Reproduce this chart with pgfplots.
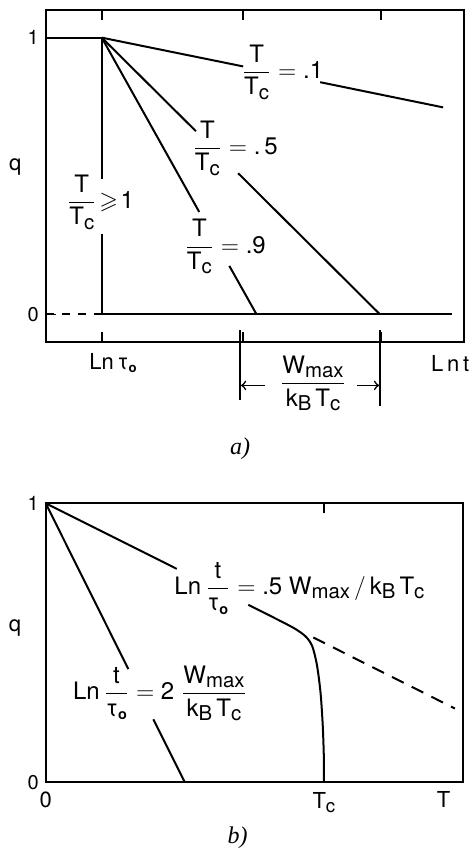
\documentclass[border=0pt]{standalone}
\usepackage{amsmath,amssymb}
\usepackage{fontspec}
\setmainfont{TeX Gyre Heros}
\newfontfamily\serif{Liberation Serif}
\usepackage{pgfplots}
\pgfplotsset{compat=1.18}

% lowered, slightly reduced subscripts as in the drawing
\newcommand{\sub}[1]{\raisebox{-0.35ex}{\scalebox{0.85}{#1}}}
\newcommand{\Tc}{\text{T\sub{c}}}
\newcommand{\TT}{\dfrac{\text{T}}{\Tc}}
\newcommand{\tauo}{\text{τ\raisebox{-0.3ex}{\scalebox{0.6}{\bfseries o}}}}
\newcommand{\Lt}{\text{Ln}\,\dfrac{\text{t}}{\tauo}}
\newcommand{\Wm}{\text{W\sub{max}}}
\newcommand{\kT}{\text{k\sub{B}\,T\sub{c}}}

\pgfplotsset{
  sketch/.style={
    scale only axis,
    axis line style={line width=1pt},
    every tick/.style={black, line width=0.8pt},
    tick align=inside,
    major tick length=5pt,
    clip=false,
    /pgf/number format/assume math mode=true,
    tick label style={font=\fontsize{10}{12}\selectfont},
    cycle list={{black,solid}},
    every axis plot post/.append style={black, line width=1pt, mark=none},
  }
}

\begin{document}
\begin{tikzpicture}
\path[use as bounding box] (0,0) rectangle (236.5pt,424.5pt);

% panel a
\begin{axis}[sketch,
  at={(22.85pt,253.5pt)}, anchor=south west,
  width=209.15pt, height=166pt,
  xmin=0, xmax=10, ymin=-0.1, ymax=1.1,
  xtick={1.34,4.72,8.02}, xticklabels={},
  xtick pos=both,
  ytick={0,1}, yticklabels={0,1}, ytick pos=left,
]
\addplot coordinates {(0,1) (1.34,1)};
\addplot coordinates {(1.34,1) (1.34,0.49)};
\addplot coordinates {(1.34,0.29) (1.34,0)};
\addplot coordinates {(1.34,0) (9.72,0)};
\addplot[dash pattern=on 4pt off 4pt] coordinates {(0,0) (1.34,0)};
% T/Tc = .1
\addplot coordinates {(1.34,1) (4.72,0.896)};
\addplot coordinates {(6.56,0.839) (9.50,0.748)};
% T/Tc = .5
\addplot coordinates {(1.34,1) (3.59,0.662)};
\addplot coordinates {(4.60,0.510) (7.99,0)};
% T/Tc = .9
\addplot coordinates {(1.34,1) (3.67,0.370)};
\addplot coordinates {(4.39,0.175) (5.04,0)};

% bracket for Wmax/kBTc
\addplot coordinates {(4.65,-0.058) (4.65,-0.311)};
\addplot coordinates {(7.99,-0.058) (7.99,-0.333)};
\draw[->, line width=0.8pt] (axis cs:5.24,-0.257) -- (axis cs:4.67,-0.257);
\draw[->, line width=0.8pt] (axis cs:7.44,-0.257) -- (axis cs:7.97,-0.257);

\node[font=\fontsize{12}{14}\selectfont] at (axis cs:5.66,0.876) {$\TT=\text{.1}$};
\node[font=\fontsize{12}{14}\selectfont] at (axis cs:4.53,0.601) {$\TT=\text{.\,5}$};
\node[font=\fontsize{12}{14}\selectfont] at (axis cs:1.31,0.406) {$\TT\!\geqslant\!\text{1}$};
\node[font=\fontsize{12}{14}\selectfont] at (axis cs:4.29,0.244) {$\TT=\text{.9}$};
\node[font=\fontsize{11}{13}\selectfont] at (axis cs:-0.73,0.532) {q};
\node[font=\fontsize{11}{13}\selectfont] at (axis cs:1.61,-0.177) {Ln\,$\tauo$};
\node[font=\fontsize{11}{13}\selectfont] at (axis cs:9.67,-0.177) {L\,n\,t};
\node[font=\fontsize{12}{14}\selectfont] at (axis cs:6.39,-0.25) {$\dfrac{\Wm}{\kT}$};
\node[font=\serif\itshape\fontsize{12}{14}\selectfont] at (axis cs:4.645,-0.485) {a)};
\end{axis}

% panel b
\begin{axis}[sketch,
  at={(22.85pt,33.35pt)}, anchor=south west,
  width=208.65pt, height=139.5pt,
  xmin=0, xmax=1.5, ymin=0, ymax=1,
  xtick={1}, xticklabels={}, xtick pos=both,
  ytick={0,1}, yticklabels={0,1}, ytick pos=left,
]
% Ln t/tau0 = 2 Wmax/kBTc
\addplot coordinates {(0,1) (0.297,0.406)};
\addplot coordinates {(0.387,0.226) (0.5,0)};
% Ln t/tau0 = .5 Wmax/kBTc
\addplot coordinates {(0,1) (0.471,0.765)};
\addplot[smooth, tension=0.5] coordinates {
  (0.728,0.636) (0.85,0.575) (0.90,0.548) (0.935,0.522) (0.958,0.488)
  (0.975,0.42) (0.988,0.32) (0.996,0.2) (1.0,0.08) (1.0,0)};
\addplot[dash pattern=on 6.5pt off 4.5pt] coordinates {(0.962,0.519) (1.471,0.2645)};

\node[font=\fontsize{12}{14}\selectfont] at (axis cs:0.912,0.695) {$\Lt=\text{.5}\;\Wm\,/\,\kT$};
\node[font=\fontsize{12}{14}\selectfont] at (axis cs:0.411,0.319) {$\Lt=\text{2}\;\dfrac{\Wm}{\kT}$};
\node[font=\fontsize{11}{13}\selectfont] at (axis cs:-0.110,0.553) {q};
\node[font=\fontsize{11}{13}\selectfont] at (axis cs:0,-0.063) {0};
\node[font=\fontsize{11}{13}\selectfont] at (axis cs:1.0,-0.073) {$\Tc$};
\node[font=\fontsize{11}{13}\selectfont] at (axis cs:1.43,-0.063) {T};
\node[font=\serif\itshape\fontsize{12}{14}\selectfont] at (axis cs:0.69,-0.199) {b)};
\end{axis}
\end{tikzpicture}
\end{document}
